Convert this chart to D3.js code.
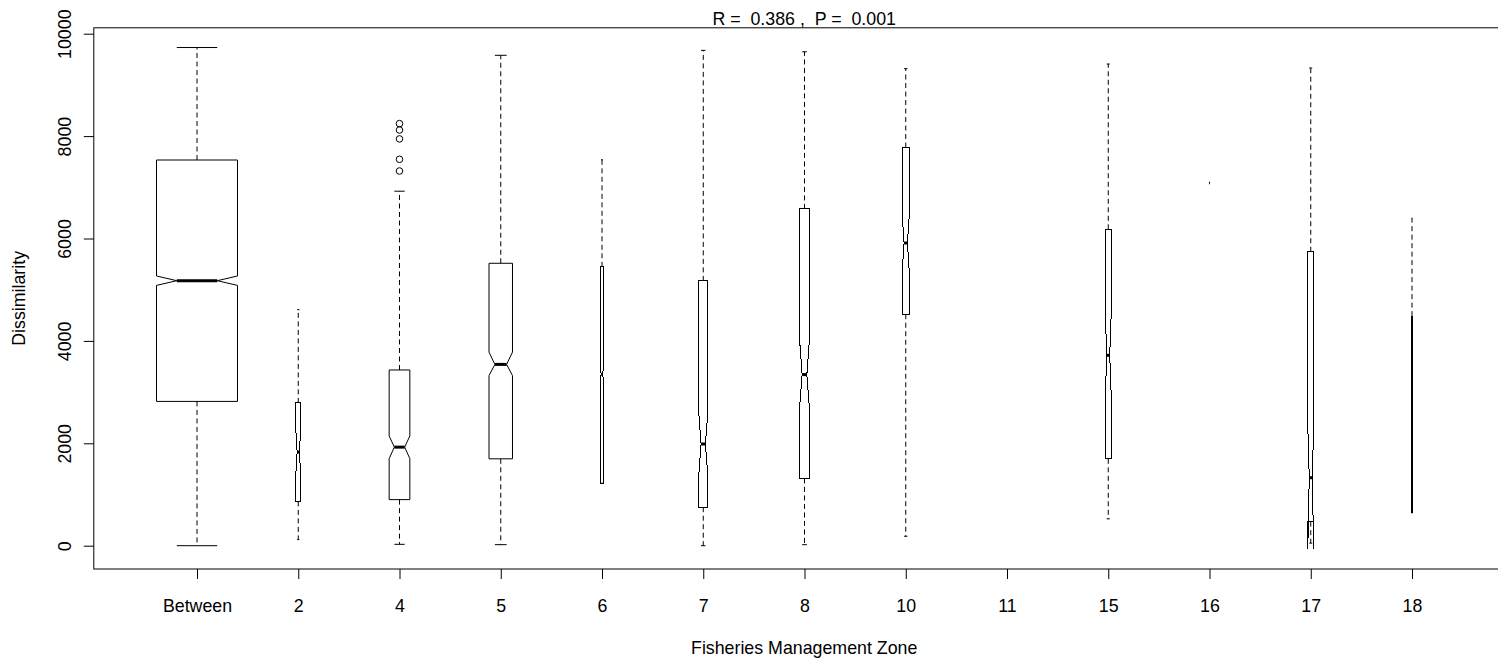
<!DOCTYPE html>
<html>
<head>
<meta charset="utf-8">
<script src="https://cdn.jsdelivr.net/npm/d3@7"></script>
<style>
  html, body { margin: 0; padding: 0; background: #fff; }
  svg { display: block; }
  text { font-family: "Liberation Sans", Arial, sans-serif; font-size: 17.8px; fill: #000; }
</style>
</head>
<body>
<svg id="chart" width="1498" height="659"></svg>
<script>
// ---- data ----
const categories = ["Between", "2", "4", "5", "6", "7", "8", "10", "11", "15", "16", "17", "18"];
const counts     = [6670, 21, 435, 561, 15, 78, 91, 45, 0, 36, 1, 36, 3];
const whiskerHi  = [9730, 4610, 6924, 9578, 7537, 9674, 9647, 9318, null, 9408, 7085, 9330, 6398];
const q3         = [7533, 2789, 3432, 5516, 5447, 5172, 6578, 7777, null, 6180, 7085, 5742, 4484];
const notchHi    = [5268, 2211, 2143, 3781, 4404, 2568, 3973, 6406, null, 4535, 7085, 2357, 4000];
const medians    = [5176, 1827, 1925, 3541, 3348, 1986, 3342, 5912, null, 3719, 7085, 1328, 2600];
const notchLo    = [5084, 1443, 1701, 3322, 2293, 1402, 2740, 5412, null, 2924, 7085, -64, 1200];
const q1         = [2818, 865, 900, 1697, 1219, 752, 1314, 4521, null, 1697, 7085, 470, 640];
const whiskerLo  = [0, 119, 27, 20, 1219, 0, 20, 184, null, 525, 7085, 50, 640];
const outliers   = [[], [], [8244, 8119, 7945, 7547, 7318], [], [], [], [], [], [], [], [], [], []];
const yTicks     = [0, 2000, 4000, 6000, 8000, 10000];
const titleText  = "R =  0.386 ,  P =  0.001";
const xTitle     = "Fisheries Management Zone";
const yTitle     = "Dissimilarity";

// ---- layout ----
const frame = { left: 93.8, right: 1514.6, top: 27.8, bottom: 569 };
const FONT = "17.8px";
const svg = d3.select("#chart");

const x = d3.scalePoint().domain(categories).range([197, 1412]);
const y = d3.scaleLinear().domain([0, 10000]).range([545.7, 33.7]);
const step = x.step();
const maxN = d3.max(counts);
const wScale = d3.scaleSqrt().domain([0, maxN]).range([0, 0.8 * step]);

const groups = categories.map((c, i) => ({
  cat: c, n: counts[i], wHi: whiskerHi[i], q3: q3[i], nHi: notchHi[i], med: medians[i],
  nLo: notchLo[i], q1: q1[i], wLo: whiskerLo[i], out: outliers[i]
})).filter(d => d.n > 0 && d.med !== null);

// frame
svg.append("rect")
  .attr("x", frame.left).attr("y", frame.top)
  .attr("width", frame.right - frame.left).attr("height", frame.bottom - frame.top)
  .attr("fill", "none").attr("stroke", "#000").attr("stroke-width", 1);

// y axis
const yAxis = d3.axisLeft(y).tickValues(yTicks).tickSize(10).tickFormat(d3.format("d"));
const gy = svg.append("g").attr("transform", `translate(${frame.left},0)`).call(yAxis);
gy.select(".domain").remove();
gy.selectAll(".tick line").attr("stroke", "#000");
gy.selectAll(".tick text")
  .attr("x", null).attr("dy", null)
  .attr("transform", "translate(-23,0) rotate(-90)")
  .attr("text-anchor", "middle")
  .style("font-size", FONT)
  .style("font-family", "'Liberation Sans', Arial, sans-serif");

// x axis
const xAxis = d3.axisBottom(x).tickSize(10).tickPadding(0);
const gx = svg.append("g").attr("transform", `translate(0,${frame.bottom})`).call(xAxis);
gx.select(".domain").remove();
gx.selectAll(".tick line").attr("stroke", "#000");
gx.selectAll(".tick text")
  .attr("y", 43).attr("dy", null)
  .style("font-size", FONT)
  .style("font-family", "'Liberation Sans', Arial, sans-serif");

// boxes
const line = d3.line();
const g = svg.append("g");
groups.forEach(d => {
  const cx = x(d.cat);
  const wid = wScale(d.n) / 2;
  const narrow = wid * 2 < 12;
  // whiskers (dashed)
  g.append("line").attr("x1", cx).attr("x2", cx).attr("y1", y(d.q3)).attr("y2", y(d.wHi))
    .attr("stroke", "#000").attr("stroke-width", 1).attr("stroke-dasharray", "5,3.5");
  g.append("line").attr("x1", cx).attr("x2", cx).attr("y1", y(d.q1)).attr("y2", y(d.wLo))
    .attr("stroke", "#000").attr("stroke-width", 1).attr("stroke-dasharray", "5,3.5");
  // staples
  [d.wHi, d.wLo].forEach(v => {
    g.append("line").attr("x1", cx - wid / 2).attr("x2", cx + wid / 2)
      .attr("y1", y(v)).attr("y2", y(v)).attr("stroke", "#000").attr("stroke-width", 1);
  });
  // notched box polygon (R bxp order)
  const fx = [-1, 1, 1, 0.5, 1, 1, -1, -1, -0.5, -1];
  const fy = [d.q1, d.q1, d.nLo, d.med, d.nHi, d.q3, d.q3, d.nHi, d.med, d.nLo];
  const pts = fx.map((f, k) => [cx + f * wid, y(fy[k])]);
  g.append("path").attr("d", line(pts) + "Z")
    .attr("fill", "none").attr("stroke", "#000").attr("stroke-width", 1)
    .attr("shape-rendering", narrow ? "crispEdges" : "auto");
  // median
  g.append("line").attr("x1", cx - wid * 0.5).attr("x2", cx + wid * 0.5)
    .attr("y1", y(d.med)).attr("y2", y(d.med))
    .attr("stroke", "#000").attr("stroke-width", 3);
  // outliers
  g.selectAll(null).data(d.out).enter().append("circle")
    .attr("cx", cx).attr("cy", v => y(v)).attr("r", 3.3)
    .attr("fill", "none").attr("stroke", "#000").attr("stroke-width", 1);
});

// titles
svg.append("text").attr("x", (frame.left + frame.right) / 2).attr("y", 25)
  .attr("text-anchor", "middle").attr("xml:space", "preserve").style("white-space", "pre")
  .text(titleText);
svg.append("text").attr("x", (frame.left + frame.right) / 2).attr("y", 654)
  .attr("text-anchor", "middle").text(xTitle);
svg.append("text").attr("transform", `translate(25,${(frame.top + frame.bottom) / 2}) rotate(-90)`)
  .attr("text-anchor", "middle").text(yTitle);
</script>
</body>
</html>
